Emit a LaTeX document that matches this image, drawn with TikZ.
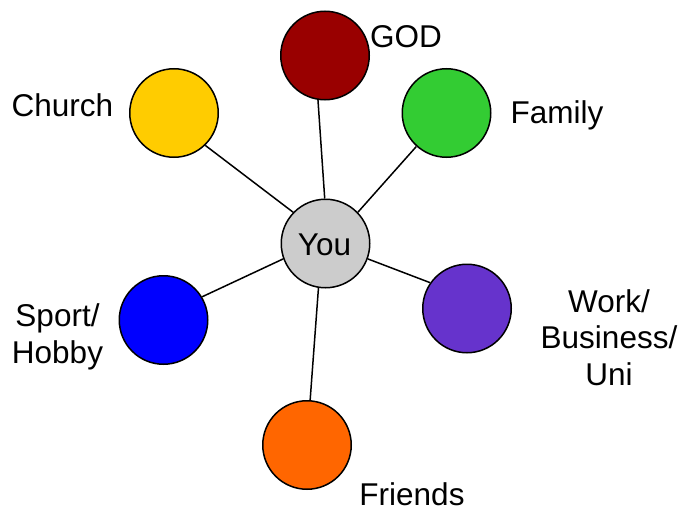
\documentclass[tikz,border=0pt]{standalone}
\usepackage{fontspec}
\setmainfont{Liberation Sans}
\definecolor{godred}{HTML}{990000}
\definecolor{churchyellow}{HTML}{FFCC00}
\definecolor{familygreen}{HTML}{33CC33}
\definecolor{yougray}{HTML}{CCCCCC}
\definecolor{sportblue}{HTML}{0000FF}
\definecolor{workpurple}{HTML}{6633CC}
\definecolor{friendsorange}{HTML}{FF6600}
\tikzset{
  ball/.style={circle, draw=black, line width=1.5pt, minimum size=88.5pt, inner sep=0pt},
  lbl/.style={inner sep=0pt, anchor=base, align=center, font=\fontsize{31.5}{36.5}\selectfont},
  link/.style={line width=1.5pt, draw=black}
}
\begin{document}
\begin{tikzpicture}[x=1pt, y=-1pt]
\useasboundingbox (0,0) rectangle (683,511);
\node[ball, fill=godred] (god) at (325,55.5) {};
\node[ball, fill=churchyellow] (church) at (174,113) {};
\node[ball, fill=familygreen] (family) at (446.5,113) {};
\node[ball, fill=yougray] (you) at (325.5,243.5) {};
\node[ball, fill=sportblue] (sport) at (163.5,320) {};
\node[ball, fill=workpurple] (work) at (467,308.5) {};
\node[ball, fill=friendsorange] (friends) at (307,445) {};
\draw[link] (god.261) -- (you.91);
\draw[link] (church.314) -- (you.136);
\draw[link] (family.228) -- (you.44);
\draw[link] (sport.31) -- (you.200);
\draw[link] (work.145) -- (you.-20);
\draw[link] (friends.86) -- (you.261);
\node[lbl] (youlbl) at (324.5,255) {You};
\node[lbl] (godlbl) at (406,48) {GOD};
\node[lbl] (churchlbl) at (62.5,116.7) {Church};
\node[lbl] (familylbl) at (557,123.3) {Family};
\node[lbl] (sportlbl) at (57.5,363) {Sport/\\Hobby};
\node[lbl] (worklbl) at (609,385) {Work/\\Business/\\Uni};
\node[lbl, text depth=0pt] (friendslbl) at (412,505) {Friends};
\end{tikzpicture}
\end{document}
